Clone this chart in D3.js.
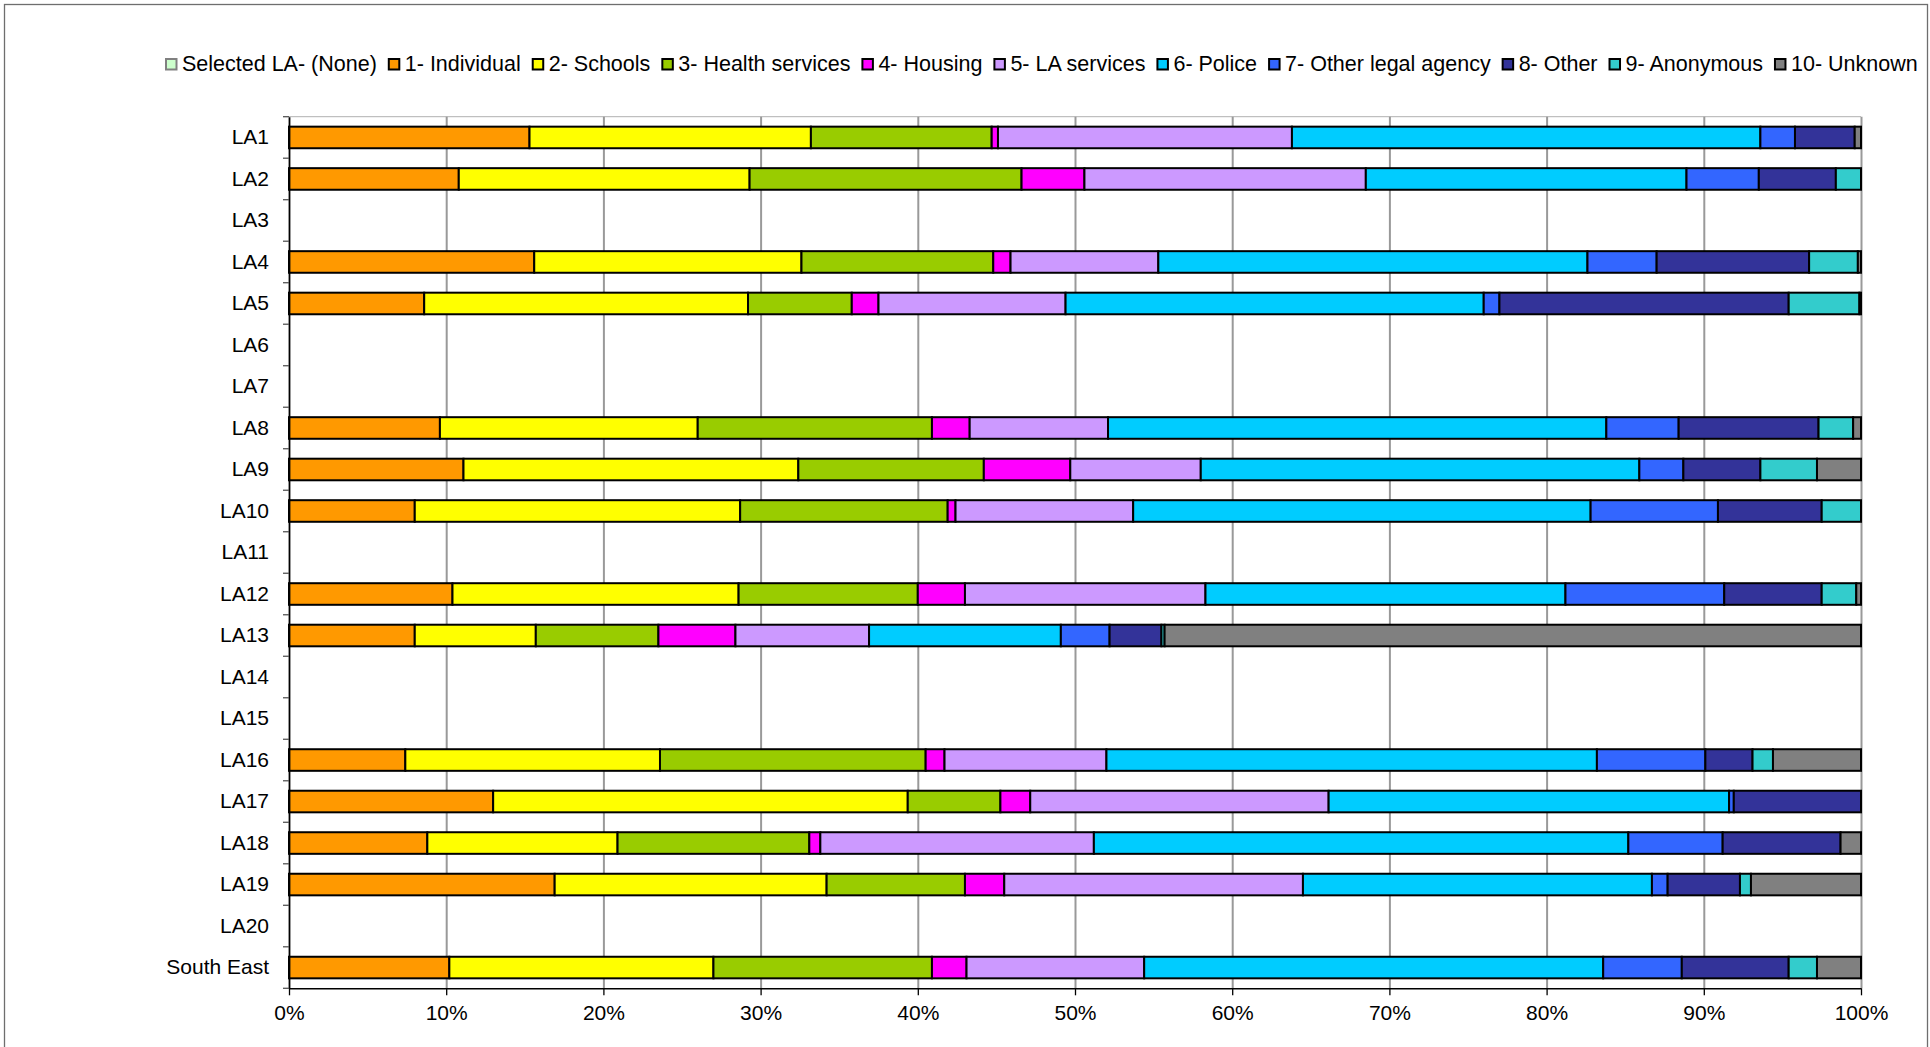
<!DOCTYPE html>
<html>
<head>
<meta charset="utf-8">
<script src="https://cdn.jsdelivr.net/npm/d3@7"></script>
<style>
  html, body { margin: 0; padding: 0; background: #fff; }
  svg { display: block; font-family: "Liberation Sans", Arial, sans-serif; }
</style>
</head>
<body>
<svg id="chart" width="1930" height="1047"></svg>
<script>
// ---------- DATA ----------
const categories = ["LA1","LA2","LA3","LA4","LA5","LA6","LA7","LA8","LA9","LA10","LA11","LA12","LA13","LA14","LA15","LA16","LA17","LA18","LA19","LA20","South East"];

const seriesNames = ["Selected LA- (None)","1- Individual","2- Schools","3- Health services","4- Housing","5- LA services","6- Police","7- Other legal agency","8- Other","9- Anonymous","10- Unknown"];
const seriesColors = ["#CCFFCC","#FF9900","#FFFF00","#99CC00","#FF00FF","#CC99FF","#00CCFF","#3366FF","#333399","#33CCCC","#808080"];

const selectedLA = [0,0,0,0,0,0,0,0,0,0,0,0,0,0,0,0,0,0,0,0,0];
const individual = [15.3,10.8,0,15.6,8.6,0,0,9.6,11.1,8.0,0,10.4,8.0,0,0,7.4,13.0,8.8,16.9,0,10.2];
const schools    = [17.9,18.5,0,17.0,20.6,0,0,16.4,21.3,20.7,0,18.2,7.7,0,0,16.2,26.4,12.1,17.3,0,16.8];
const health     = [11.5,17.3,0,12.2,6.6,0,0,14.9,11.8,13.2,0,11.4,7.8,0,0,16.9,5.9,12.2,8.8,0,13.9];
const housing    = [0.4,4.0,0,1.1,1.7,0,0,2.4,5.5,0.5,0,3.0,4.9,0,0,1.2,1.9,0.7,2.5,0,2.2];
const laServices = [18.7,17.9,0,9.4,11.9,0,0,8.8,8.3,11.3,0,15.3,8.5,0,0,10.3,19.0,17.4,19.0,0,11.3];
const police     = [29.8,20.4,0,27.3,26.6,0,0,31.7,27.9,29.1,0,22.9,12.2,0,0,31.2,25.5,34.0,22.2,0,29.2];
const otherLegal = [2.2,4.6,0,4.4,1.0,0,0,4.6,2.8,8.1,0,10.1,3.1,0,0,6.9,0.3,6.0,1.0,0,5.0];
const other      = [3.8,4.9,0,9.7,18.4,0,0,8.9,4.9,6.6,0,6.2,3.3,0,0,3.0,8.1,7.5,4.6,0,6.8];
const anonymous  = [0,1.6,0,3.1,4.5,0,0,2.2,3.6,2.5,0,2.2,0.2,0,0,1.3,0,0,0.7,0,1.8];
const unknown    = [0.4,0,0,0.2,0.1,0,0,0.5,2.8,0,0,0.3,44.3,0,0,5.6,0,1.3,7.0,0,2.8];

const seriesValues = [selectedLA, individual, schools, health, housing, laServices, police, otherLegal, other, anonymous, unknown];
const xTickValues = [0,0.1,0.2,0.3,0.4,0.5,0.6,0.7,0.8,0.9,1.0];

// ---------- BUILD TABLE ----------
const table = categories.map((c, i) => {
  const row = { category: c };
  seriesNames.forEach((s, k) => { row[s] = seriesValues[k][i]; });
  return row;
});

// ---------- LAYOUT ----------
const svg = d3.select("#chart");
const plot = { left: 289, right: 1861, top: 116.7, bottom: 988.3 };

// outer frame
svg.append("rect")
  .attr("x", 4.5).attr("y", 4.5)
  .attr("width", 1923).attr("height", 1200)
  .attr("fill", "#fff").attr("stroke", "#6e6e6e").attr("stroke-width", 1.3);

const x = d3.scaleLinear().domain([0, 1]).range([plot.left, plot.right]);
const y = d3.scaleBand().domain(categories).range([plot.top, plot.bottom])
  .paddingInner(0.48).paddingOuter(0.24);
const yb = d3.scaleBand().domain(categories).range([plot.top, plot.bottom]).padding(0);

const stack = d3.stack().keys(seriesNames).offset(d3.stackOffsetExpand);
const stacked = stack(table);

// plot top line
svg.append("line")
  .attr("x1", plot.left).attr("x2", plot.right)
  .attr("y1", plot.top).attr("y2", plot.top)
  .attr("stroke", "#b0b0b0").attr("stroke-width", 1);

// gridlines
svg.append("g")
  .attr("transform", `translate(0,${plot.bottom})`)
  .call(d3.axisBottom(x).tickValues(xTickValues.slice(1)).tickSize(-(plot.bottom - plot.top)).tickFormat(""))
  .call(g => g.select(".domain").remove())
  .call(g => g.selectAll("line").attr("stroke", "#999").attr("stroke-width", 2));

// bars
const layers = svg.append("g").selectAll("g.layer")
  .data(stacked).join("g")
  .attr("class", "layer")
  .attr("fill", (d, i) => seriesColors[i]);

layers.selectAll("rect")
  .data(d => d.filter(p => (p[1] - p[0]) > 0))
  .join("rect")
  .attr("x", p => x(p[0]))
  .attr("y", p => y(p.data.category))
  .attr("width", p => x(p[1]) - x(p[0]))
  .attr("height", y.bandwidth())
  .attr("stroke", "#000")
  .attr("stroke-width", 2);

// x axis
const xAxis = svg.append("g")
  .attr("transform", `translate(0,${plot.bottom})`)
  .call(d3.axisBottom(x).tickValues(xTickValues).tickFormat(d3.format(".0%")).tickSize(7).tickSizeOuter(0));
xAxis.select(".domain").attr("stroke", "#000").attr("stroke-width", 1.6);
xAxis.selectAll(".tick line").attr("stroke", "#000").attr("stroke-width", 1.3);
xAxis.selectAll(".tick text")
  .attr("y", 32).attr("dy", 0)
  .attr("font-size", 21).attr("fill", "#000")
  .attr("font-family", "'Liberation Sans', Arial, sans-serif");

// y axis
const yAxis = svg.append("g")
  .attr("transform", `translate(${plot.left},0)`)
  .call(d3.axisLeft(y).tickSize(0).tickPadding(20));
yAxis.select(".domain").attr("stroke", "#000").attr("stroke-width", 1.8);
yAxis.selectAll(".tick text")
  .attr("font-size", 21).attr("fill", "#000")
  .attr("font-family", "'Liberation Sans', Arial, sans-serif");

// y ticks at category boundaries
const bounds = categories.map(c => yb(c)).concat([plot.bottom]);
svg.append("g").selectAll("line")
  .data(bounds).join("line")
  .attr("x1", plot.left - 6).attr("x2", plot.left)
  .attr("y1", d => d).attr("y2", d => d)
  .attr("stroke", "#555").attr("stroke-width", 1.3);

// legend
const legend = svg.append("g").attr("transform", "translate(165,0)");
let lx = 0;
seriesNames.forEach((name, i) => {
  const g = legend.append("g").attr("transform", `translate(${lx},0)`);
  g.append("rect")
    .attr("x", 1).attr("y", 59)
    .attr("width", 10.5).attr("height", 10.5)
    .attr("fill", seriesColors[i])
    .attr("stroke", i === 0 ? "#808080" : "#000")
    .attr("stroke-width", 2);
  const t = g.append("text")
    .attr("x", 17).attr("y", 71)
    .attr("font-size", 21.5).attr("fill", "#000")
    .text(name);
  lx += 17 + t.node().getComputedTextLength() + 11;
});
</script>
</body>
</html>
